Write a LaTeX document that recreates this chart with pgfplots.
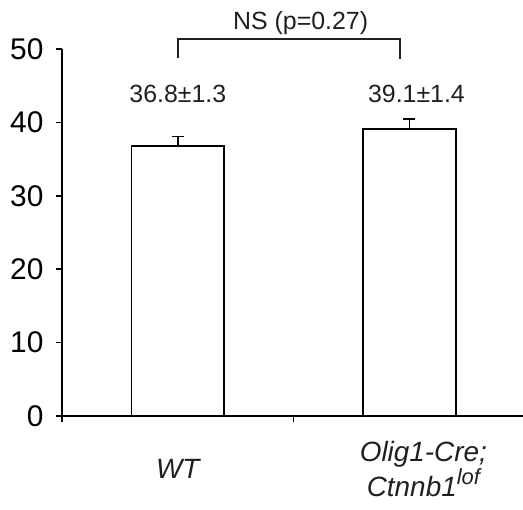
\documentclass[border=0pt]{standalone}
\usepackage{pgfplots}
\pgfplotsset{compat=1.18}
\usepackage{fontspec}
\setmainfont{Liberation Sans}
\definecolor{txt}{HTML}{231F20}
\begin{document}
\begin{tikzpicture}
\begin{axis}[
  scale only axis, width=461bp, height=367bp,
  xmin=-0.5, xmax=1.49, ymin=0, ymax=50,
  axis x line*=bottom, axis y line*=left,
  axis line style={-, line width=1.6bp, black},
  tick align=outside, major tick length=6bp,
  every tick/.style={black, line width=1.6bp},
  ytick={0,10,20,30,40,50},
  yticklabel style={font=\fontsize{30}{30}\selectfont, text=black, xshift=-9bp},
  xtick={-0.5,0.5}, xticklabels={},
  extra x ticks={0,1.06},
  extra x tick labels={WT,{Olig1-Cre;\\Ctnnb1\raisebox{0.45em}{\fontsize{22}{22}\selectfont lof}}},
  extra x tick style={major tick length=0pt,
     tick label style={font=\itshape\fontsize{28}{33}\selectfont, align=center, anchor=center, yshift=-53bp, text=txt}},
  clip=false,
  /pgf/number format/assume math mode=true,
]
\addplot[ybar, bar width=0.4, fill=white, draw=black, line width=1.6bp,
  error bars/.cd, y dir=plus, y explicit,
  error bar style={line width=1.6bp, black},
  error mark options={rotate=90, mark size=6bp, line width=1.6bp}]
  coordinates {(0,36.8) +- (0,1.3) (1,39.1) +- (0,1.4)};
\addplot[draw=txt, line width=1.6bp, mark=none]
  coordinates {(0,48.8) (0,51.4) (0.96,51.4) (0.96,48.6)};
\node[font=\fontsize{25}{25}\selectfont, text=txt] at (axis cs:0,43.9) {36.8±1.3};
\node[font=\fontsize{25}{25}\selectfont, text=txt] at (axis cs:1.03,43.9) {39.1±1.4};
\node[font=\fontsize{25}{25}\selectfont, text=txt] at (axis cs:0.53,53.6) {NS (p=0.27)};
\end{axis}
\pgfresetboundingbox
\path[use as bounding box] (-62bp,-94bp) rectangle (461bp,416bp);
\end{tikzpicture}
\end{document}
